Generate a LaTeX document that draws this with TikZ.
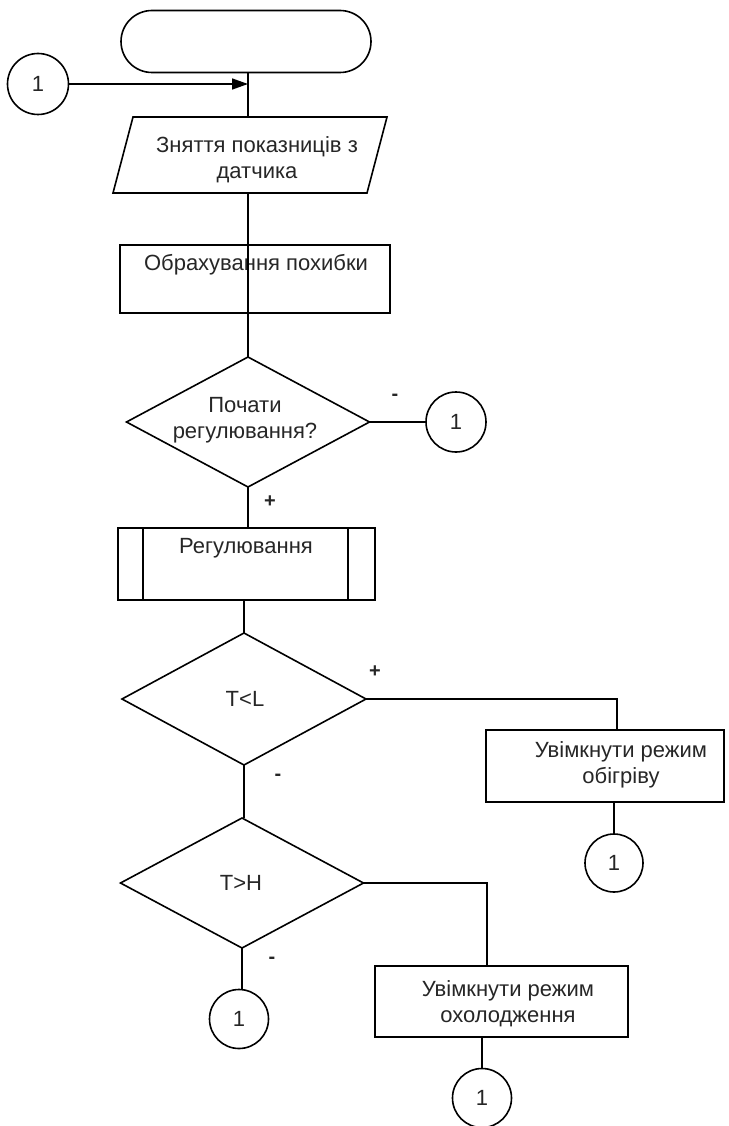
\documentclass[tikz,border=0pt]{standalone}
\usepackage{fontspec}
\setmainfont{Liberation Sans}
\usetikzlibrary{shapes.geometric,arrows.meta}
\begin{document}
\begin{tikzpicture}[x=1pt,y=-1pt,
  every node/.style={inner sep=0pt, outer sep=0pt},
  ln/.style={line width=1.6pt, draw=black},
  txt/.style={font=\fontsize{22}{26}\selectfont, text=black!85, align=center},
  sgn/.style={font=\bfseries\fontsize{20}{22}\selectfont, text=black!85},
  boxn/.style={ln, rectangle},
  dia/.style={ln, diamond},
  conn/.style={ln, circle, minimum size=60pt, font=\fontsize{22}{26}\selectfont, text=black!85},
]
\useasboundingbox (0,0) rectangle (728,1126);

% start terminator
\node[ln, rectangle, rounded corners=31pt, minimum width=250pt, minimum height=62pt] (term) at (246,41.5) {};

% input connector
\node[conn, minimum size=61pt] (c0) at (38,84) {1};

% parallelogram (data)
\node[minimum width=254pt, minimum height=76pt] (para) at (250,155) {};
\draw[ln] ([xshift=-10pt]para.south west) -- ([xshift=10pt]para.north west) -- ([xshift=10pt]para.north east) -- ([xshift=-10pt]para.south east) -- cycle;
\node[txt] (paratxt) at (257,160) {Зняття показниців з\\датчика};

% process: error calculation
\node[boxn, minimum width=270pt, minimum height=68pt] (r1) at (255,279) {};
\node[txt] (r1txt) at (256,265) {Обрахування похибки};

% decision 1
\node[dia, minimum width=243pt, minimum height=130pt] (d1) at (248,422) {};
\node[txt] (d1txt) at (245,420) {Почати\\регулювання?};
\node[conn] (c1) at (456,422) {1};
\node[sgn] (m1) at (395,397) {-};
\node[sgn] (p1) at (270,502) {+};

% predefined process
\node[boxn, minimum width=257pt, minimum height=72pt] (p) at (246.5,564) {};
\draw[ln] ([xshift=25pt]p.north west) -- ([xshift=25pt]p.south west);
\draw[ln] ([xshift=-27pt]p.north east) -- ([xshift=-27pt]p.south east);
\node[txt] (ptxt) at (246,548) {Регулювання};

% decision 2
\node[dia, minimum width=244pt, minimum height=132pt] (d2) at (244,699) {};
\node[txt] (d2txt) at (245,699) {T<L};
\node[sgn] (p2) at (375,672) {+};
\node[sgn] (m2) at (278,777) {-};
\coordinate (k2) at (617,699);
\node[boxn, minimum width=238pt, minimum height=72pt] (r2) at (605,766) {};
\node[txt] (r2txt) at (621,764.5) {Увімкнути режим\\обігріву};
\node[conn, minimum size=58pt] (c2) at (614,863) {1};

% decision 3
\node[dia, minimum width=243pt, minimum height=130pt] (d3) at (242,883) {};
\node[txt] (d3txt) at (241,883) {T>H};
\node[sgn] (m3) at (272,960) {-};
\coordinate (k3) at (487,883);
\node[boxn, minimum width=253pt, minimum height=71pt] (r3) at (501.5,1001.5) {};
\node[txt] (r3txt) at (508,1003.5) {Увімкнути режим\\охолодження};
\node[conn, minimum size=59pt] (c3) at (482,1098) {1};
\node[conn, minimum size=59pt] (c4) at (239,1019) {1};

% connectors
\draw[ln] (term.south -| d1.north) -- (para.north -| d1.north);
\draw[ln, -{Triangle[length=16pt,width=11pt]}] (c0.east) -- (c0.east -| d1.north);
\draw[ln] (para.south -| d1.north) -- (r1.south -| d1.north);
\draw[ln] (r1.south -| d1.north) -- (d1.north);
\draw[ln] (d1.east) -- (c1.west);
\draw[ln] (d1.south) -- (d1.south |- p.north);
\draw[ln] (p.south -| d2.north) -- (d2.north);
\draw[ln] (d2.east) -- (k2) -- (k2 |- r2.north);
\draw[ln] (r2.south -| c2.north) -- (c2.north);
\draw[ln] (d2.south) -- (d2.south |- d3.north);
\draw[ln] (d3.east) -- (k3) -- (k3 |- r3.north);
\draw[ln] (r3.south -| c3.north) -- (c3.north);
\draw[ln] (d3.south) -- (d3.south |- c4.north);
\end{tikzpicture}
\end{document}
